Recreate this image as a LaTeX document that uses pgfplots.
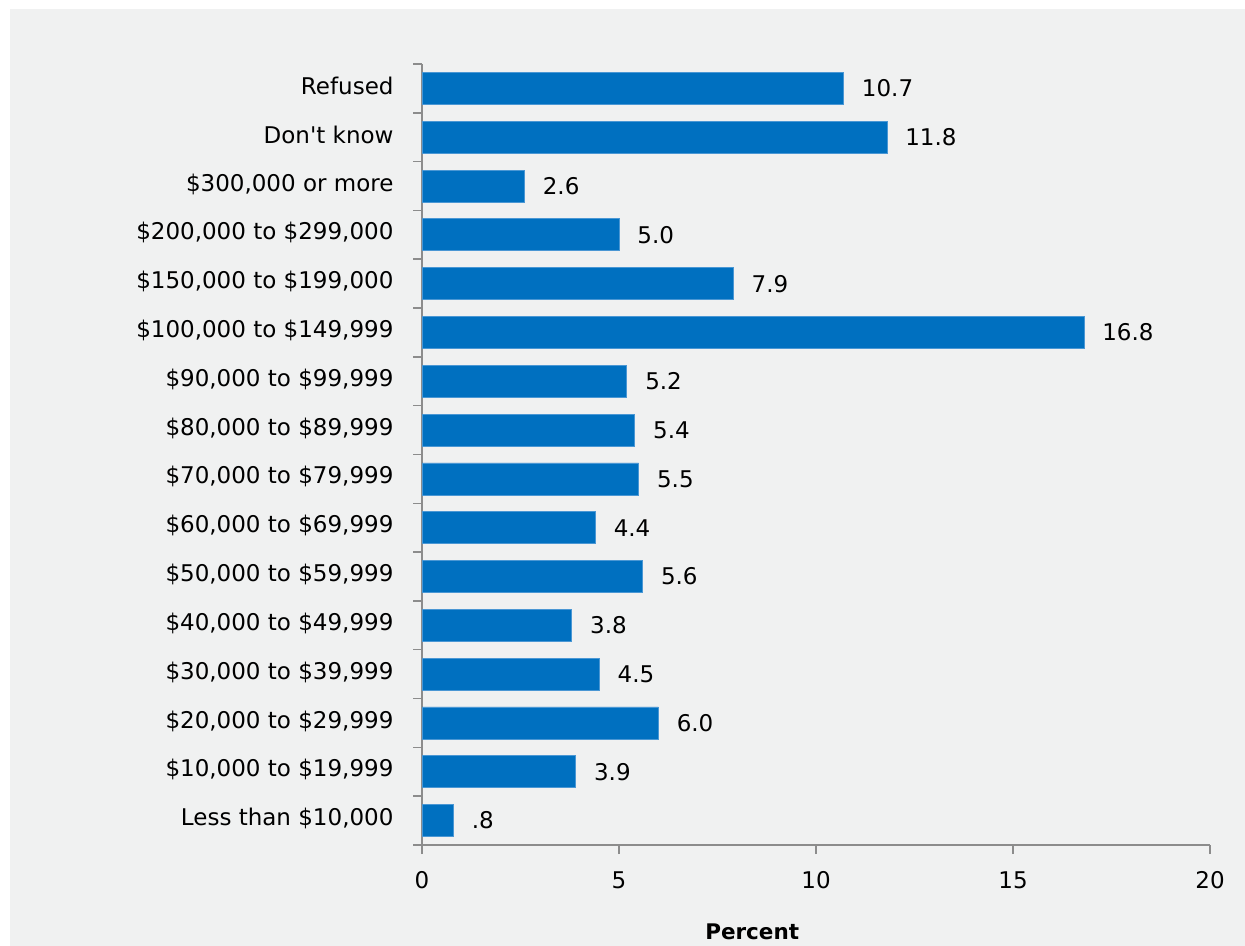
\documentclass[border=0pt]{standalone}
\usepackage{pgfplots}
\usepackage{pgfplotstable}
\pgfplotsset{compat=1.18}
\usepackage{fontspec}
\setmainfont{DejaVu Sans}
\definecolor{bg}{HTML}{F0F1F1}
\definecolor{barblue}{HTML}{0070C0}
\definecolor{baredge}{HTML}{4A97D4}
\definecolor{axgray}{HTML}{8C8C8C}

\pgfplotstableread{
y x lab
0 0.8 .8
1 3.9 3.9
2 6.0 6.0
3 4.5 4.5
4 3.8 3.8
5 5.6 5.6
6 4.4 4.4
7 5.5 5.5
8 5.4 5.4
9 5.2 5.2
10 16.8 16.8
11 7.9 7.9
12 5.0 5.0
13 2.6 2.6
14 11.8 11.8
15 10.7 10.7
}\incomedata

\begin{document}
\begin{tikzpicture}
\useasboundingbox (0bp,0bp) rectangle (1245bp,946bp);
\fill[white] (0bp,0bp) rectangle (1245bp,946bp);
\fill[bg] (10bp,0bp) rectangle (1245bp,937bp);
\begin{axis}[
  at={(422bp,101bp)}, anchor=south west,
  scale only axis, width=788bp, height=781bp,
  xbar, bar width=32bp,
  xmin=0, xmax=20, ymin=-0.5, ymax=15.5,
  enlargelimits=false, clip=false,
  axis x line*=bottom, axis y line*=left,
  axis line style={axgray, line width=1.5bp},
  tick align=outside, major tick length=9bp,
  tick style={axgray, line width=1.5bp},
  xtick={0,5,10,15,20},
  ytick={-0.5,0.5,...,15.5}, yticklabels={},
  extra y ticks={0,1,...,15},
  extra y tick labels={{Less than \$10,000},{\$10,000 to \$19,999},{\$20,000 to \$29,999},{\$30,000 to \$39,999},{\$40,000 to \$49,999},{\$50,000 to \$59,999},{\$60,000 to \$69,999},{\$70,000 to \$79,999},{\$80,000 to \$89,999},{\$90,000 to \$99,999},{\$100,000 to \$149,999},{\$150,000 to \$199,000},{\$200,000 to \$299,000},{\$300,000 or more},{Don\textquotesingle t know},{Refused}},
  extra y tick style={major tick length=0pt, yticklabel style={xshift=-25bp, yshift=2bp}},
  /pgf/number format/assume math mode=true,
  ticklabel style={font=\fontsize{23bp}{27bp}\selectfont, text=black},
  xticklabel style={yshift=-14bp},
  xlabel={Percent},
  xlabel style={at={(rel axis cs:0.419,0)}, anchor=center, yshift=-87bp, font=\bfseries\fontsize{21.5bp}{25bp}\selectfont},
  point meta=explicit symbolic,
  nodes near coords,
  nodes near coords style={anchor=west, inner sep=0pt, xshift=18bp, font=\fontsize{23bp}{27bp}\selectfont, text=black},
]
\addplot[fill=barblue, draw=baredge, line width=0.8bp] table[x=x, y=y, meta=lab] {\incomedata};
\end{axis}
\end{tikzpicture}
\end{document}
